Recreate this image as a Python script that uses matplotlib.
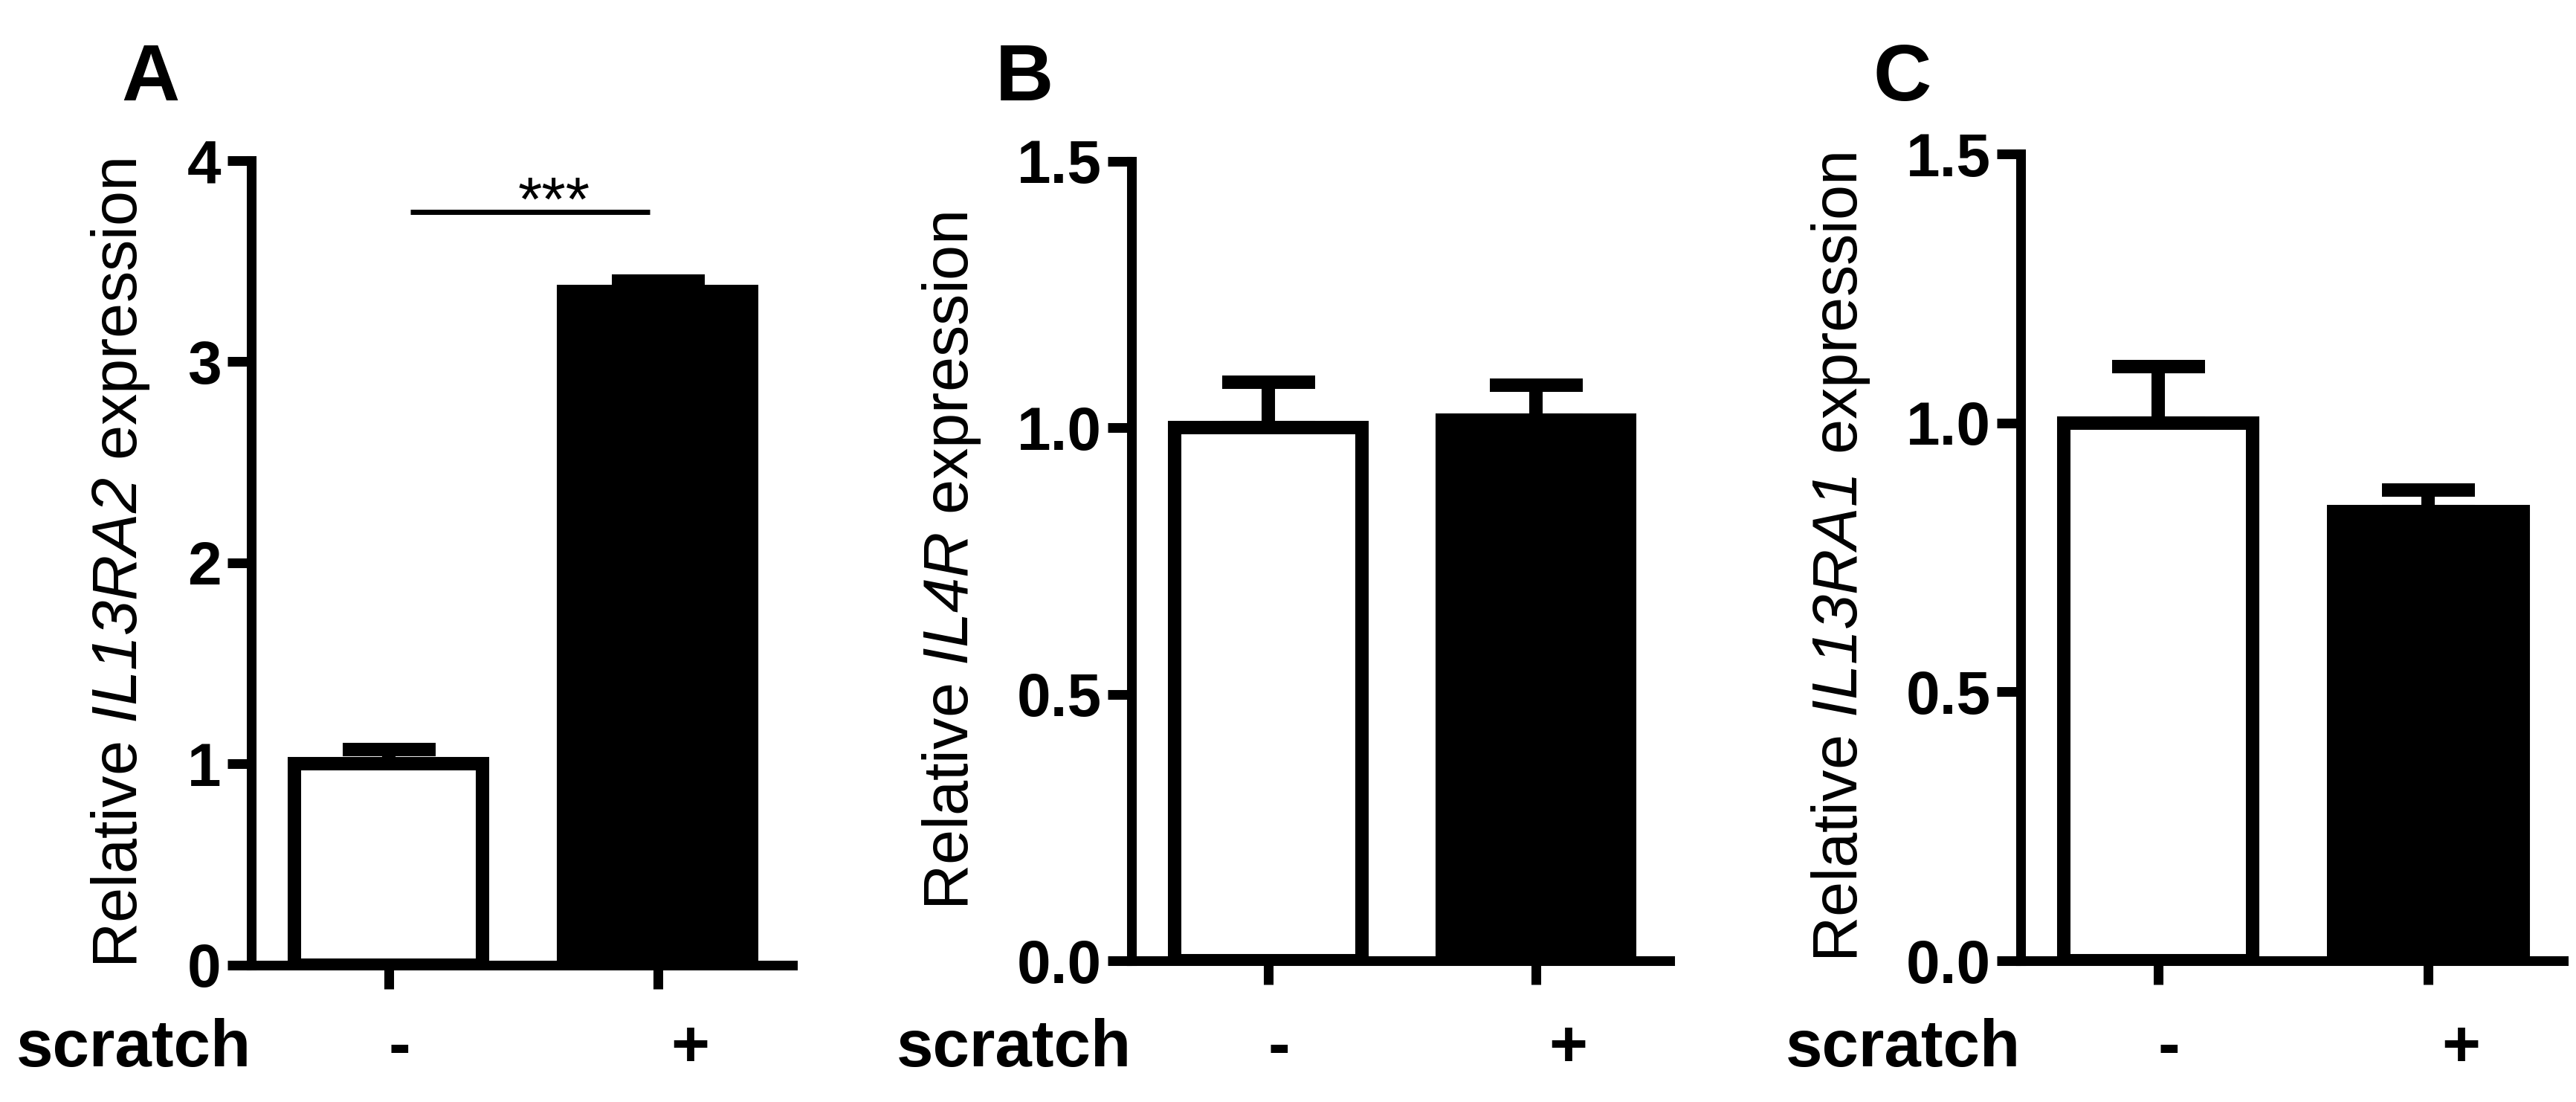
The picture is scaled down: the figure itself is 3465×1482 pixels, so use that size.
import numpy as np
import matplotlib
matplotlib.use("Agg")
import matplotlib.pyplot as plt
import matplotlib.transforms as mtransforms

plt.rcParams['font.family'] = ['Liberation Sans', 'DejaVu Sans']
# gene names are set in italics, digits included
plt.rcParams['mathtext.fontset'] = 'custom'
plt.rcParams['mathtext.rm'] = 'Liberation Sans:italic'
plt.rcParams['mathtext.it'] = 'Liberation Sans:italic'

# ---- data ----
groups = ['-', '+']
panel_letters = ['A', 'B', 'C']
genes = ['IL13RA2', 'IL4R', 'IL13RA1']
means_a = [1.0, 3.35]
sem_a = [0.07, 0.05]
means_b = [1.0, 1.015]
sem_b = [0.085, 0.065]
means_c = [1.0, 0.835]
sem_c = [0.105, 0.04]
yticks_a = [0, 1, 2, 3, 4]
yticks_bc = [0.0, 0.5, 1.0, 1.5]
sig_label = '***'

means = [means_a, means_b, means_c]
sems = [sem_a, sem_b, sem_c]
ylims = [(0, 4), (0, 1.5), (0, 1.5)]
yticks = [yticks_a, yticks_bc, yticks_bc]
ytickfmt = ['{:.0f}', '{:.1f}', '{:.1f}']

# ---- layout ----
fig = plt.figure(figsize=(34.66, 14.82), dpi=100)
axes_rects = [
    [0.0975, 0.1242, 0.2100, 0.7301],
    [0.4391, 0.1282, 0.2089, 0.7254],
    [0.7842, 0.1282, 0.2106, 0.7321],
]
ylabel_x = [-0.242, -0.334, -0.332]
letter_x = [0.0583, 0.3976, 0.7383]

LW_AX = 9.4
LW_BAR = 13
x = np.arange(len(groups))

for k in range(3):
    ax = fig.add_axes(axes_rects[k])
    ax.bar(x, means[k], width=0.7, color=['white', 'black'], edgecolor='black',
           linewidth=LW_BAR, zorder=2)
    ax.errorbar(x, means[k], yerr=[np.zeros(len(x)), sems[k]], fmt='none',
                ecolor='black', elinewidth=LW_BAR, capsize=45, capthick=LW_BAR,
                zorder=1)

    ax.set_xlim(-0.51, 1.5)
    ax.set_ylim(*ylims[k])
    ax.set_yticks(yticks[k])
    ax.set_yticklabels([ytickfmt[k].format(v) for v in yticks[k]],
                       fontsize=59, fontweight='bold')
    ax.set_xticks(x)
    ax.set_xticklabels([])

    for side in ['top', 'right']:
        ax.spines[side].set_visible(False)
    for side in ['left', 'bottom']:
        ax.spines[side].set_linewidth(LW_AX)
        ax.spines[side].set_capstyle('projecting')
    ax.tick_params(axis='both', direction='out', length=23, width=LW_AX, pad=6)
    ax.patch.set_visible(False)

    ax.text(ylabel_x[k], 0.5, r'Relative $' + genes[k] + r'$ expression',
            transform=ax.transAxes, rotation=90, ha='center', va='center',
            fontsize=61)

    # group labels under the axis
    trans = mtransforms.blended_transform_factory(ax.transData, fig.transFigure)
    ax.text(-0.51, 0.0324, 'scratch', transform=trans, ha='right', va='baseline',
            fontsize=64, fontweight='bold')
    shifts = [0.04, 0.12]
    for xi, lab, dx in zip(x, groups, shifts):
        ax.text(xi + dx, 0.0324, lab, transform=trans, ha='center', va='baseline',
                fontsize=64, fontweight='bold')

    fig.text(letter_x[k], 0.9089, panel_letters[k], ha='center', va='baseline',
             fontsize=78, fontweight='bold')

    if k == 0:
        ax.plot([0.08, 0.97], [3.745, 3.745], color='black', lw=5,
                solid_capstyle='butt', clip_on=False)
        ax.text(0.616, 3.70, sig_label, ha='center', va='baseline', fontsize=60)

fig.savefig('out.png', dpi=100)
